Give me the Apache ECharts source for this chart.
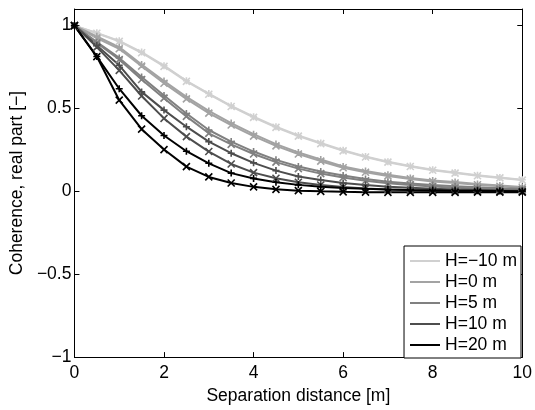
<!DOCTYPE html>
<html>
<head>
<meta charset="utf-8">
<script src="https://cdn.jsdelivr.net/npm/echarts@6/dist/echarts.min.js"></script>
<style>html,body{margin:0;padding:0;background:#fff}#c{width:535px;height:410px}</style>
</head>
<body>
<div id="c"></div>
<script>
var xs = [0,0.5,1,1.5,2,2.5,3,3.5,4,4.5,5,5.5,6,6.5,7,7.5,8,8.5,9,9.5,10];
var legendNames = ['H=\u221210 m','H=0 m','H=5 m','H=10 m','H=20 m'];
var xTicks = [0,2,4,6,8,10];
var yTicks = [-1,-0.5,0,0.5,1];

var hm10Plus  = [1,0.956,0.908,0.84,0.758,0.667,0.59,0.516,0.45,0.39,0.337,0.292,0.248,0.21,0.179,0.153,0.13,0.113,0.097,0.083,0.07];
var hm10Cross = [1,0.954,0.905,0.836,0.754,0.663,0.586,0.512,0.446,0.386,0.333,0.288,0.244,0.207,0.176,0.15,0.127,0.11,0.094,0.081,0.068];
var h0Plus    = [1,0.935,0.87,0.765,0.665,0.57,0.485,0.412,0.345,0.285,0.235,0.192,0.15,0.123,0.1,0.081,0.065,0.056,0.045,0.035,0.026];
var h0Cross   = [1,0.925,0.86,0.755,0.652,0.558,0.472,0.4,0.333,0.274,0.225,0.182,0.142,0.115,0.093,0.075,0.059,0.05,0.04,0.031,0.022];
var h5Plus    = [1,0.9,0.805,0.69,0.578,0.47,0.37,0.3,0.24,0.19,0.15,0.12,0.095,0.075,0.058,0.047,0.038,0.03,0.024,0.019,0.015];
var h5Cross   = [1,0.895,0.795,0.675,0.562,0.452,0.35,0.283,0.225,0.176,0.137,0.107,0.083,0.064,0.049,0.038,0.029,0.022,0.017,0.013,0.01];
var h10Plus   = [1,0.88,0.76,0.6,0.49,0.39,0.3,0.23,0.172,0.125,0.09,0.068,0.05,0.038,0.028,0.021,0.015,0.011,0.008,0.005,0.003];
var h10Cross  = [1,0.87,0.73,0.575,0.44,0.33,0.24,0.165,0.113,0.079,0.055,0.038,0.026,0.017,0.011,0.007,0.004,0.002,0.001,0,0];
var h20Plus   = [1,0.813,0.619,0.456,0.337,0.242,0.169,0.11,0.078,0.055,0.039,0.028,0.02,0.015,0.011,0.008,0.006,0.004,0.003,0.002,0.001];
var h20Cross  = [1,0.813,0.55,0.375,0.252,0.149,0.087,0.05,0.027,0.012,0.004,0,-0.003,-0.005,-0.006,-0.006,-0.006,-0.006,-0.005,-0.005,-0.005];

var colors = ['#d0d0d0','#a3a3a3','#808080','#4d4d4d','#000000'];
var plusSets = [hm10Plus,h0Plus,h5Plus,h10Plus,h20Plus];
var crossSets = [hm10Cross,h0Cross,h5Cross,h10Cross,h20Cross];

var PLUS = 'path://M5,0L5,10M0,5L10,5';
var CROSS = 'path://M0,0L10,10M10,0L0,10';

function pairs(ys){ return xs.map(function(x,i){ return [x, ys[i]]; }); }
function mk(name, ys, color, sym){
  return {
    name: name, type: 'line', data: pairs(ys),
    symbol: sym, symbolSize: 7, showSymbol: true,
    lineStyle: {color: color, width: 2},
    itemStyle: {color: color, borderColor: color, borderWidth: 1.6},
    emphasis: {disabled: true}, animation: false, z: 2
  };
}
var series = [];
for (var i = 0; i < 5; i++) {
  series.push(mk(legendNames[i], plusSets[i], colors[i], PLUS));
  series.push(mk(legendNames[i] + ' x', crossSets[i], colors[i], CROSS));
}

function fmt(v){ var s = String(v); return s.replace('-', '\u2212'); }
var font = 'Liberation Sans, Arial, Helvetica, sans-serif';
var FS = 17.5;

var chart = echarts.init(document.getElementById('c'), null, {renderer: 'canvas'});
chart.setOption({
  animation: false,
  backgroundColor: '#fff',
  grid: {left: 74, right: 12, top: 9, bottom: 48, containLabel: false},
  legend: {
    data: legendNames.map(function(n){ return {name: n, icon: 'rect'}; }),
    orient: 'vertical', right: 14, top: 246,
    itemWidth: 30, itemHeight: 2, itemGap: 3,
    itemStyle: {borderWidth: 0},
    backgroundColor: '#fff', borderColor: '#000', borderWidth: 1,
    padding: [6, 4, 4, 6], borderRadius: 0,
    textStyle: {fontFamily: font, fontSize: FS, lineHeight: 18, color: '#000'}
  },
  xAxis: [{
    type: 'value', min: 0, max: 10, interval: 2, position: 'bottom',
    name: 'Separation distance [m]', nameLocation: 'middle', nameGap: 23,
    nameTextStyle: {fontFamily: font, fontSize: FS, color: '#000'},
    axisLine: {show: true, onZero: false, lineStyle: {color: '#000', width: 1}},
    axisTick: {show: true, inside: true, length: 5, lineStyle: {color: '#000'}},
    axisLabel: {fontFamily: font, fontSize: FS, color: '#000', margin: 7, formatter: fmt},
    splitLine: {show: false}
  },{
    type: 'value', min: 0, max: 10, interval: 2, position: 'top',
    axisLine: {show: true, onZero: false, lineStyle: {color: '#000', width: 1}},
    axisTick: {show: true, inside: true, length: 5, lineStyle: {color: '#000'}},
    axisLabel: {show: false}, splitLine: {show: false}
  }],
  yAxis: [{
    type: 'value', min: -1, max: 1.1, position: 'left',
    name: 'Coherence, real part [\u2212]', nameLocation: 'middle', nameGap: 44,
    nameTextStyle: {fontFamily: font, fontSize: FS, color: '#000'},
    axisLine: {show: true, onZero: false, lineStyle: {color: '#000', width: 1}},
    axisTick: {show: true, inside: true, length: 5, customValues: yTicks, lineStyle: {color: '#000'}},
    axisLabel: {fontFamily: font, fontSize: FS, color: '#000', margin: 3, customValues: yTicks, formatter: fmt},
    splitLine: {show: false}
  },{
    type: 'value', min: -1, max: 1.1, position: 'right',
    axisLine: {show: true, onZero: false, lineStyle: {color: '#000', width: 1}},
    axisTick: {show: true, inside: true, length: 5, customValues: yTicks, lineStyle: {color: '#000'}},
    axisLabel: {show: false}, splitLine: {show: false}
  }],
  series: series
});
</script>
</body>
</html>
